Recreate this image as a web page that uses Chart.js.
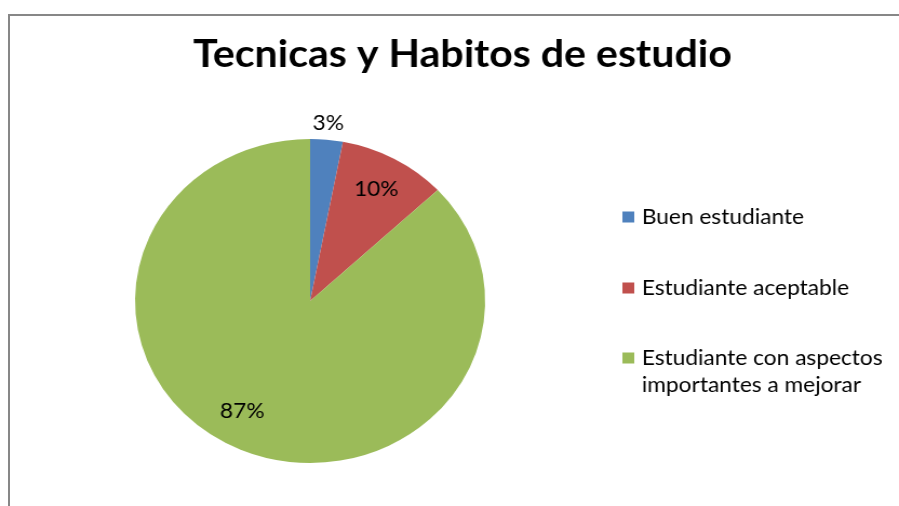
<!DOCTYPE html>
<html>
<head>
<meta charset="utf-8">
<script src="https://cdn.jsdelivr.net/npm/chart.js@4.4.1/dist/chart.umd.min.js"></script>
<style>
  html, body { margin: 0; padding: 0; background: #fff; overflow: hidden; }
  #frame {
    position: absolute; left: 8px; top: 14px; width: 900px; height: 500px;
    border-top: 2px solid #878787; border-left: 2px solid #878787;
  }
  /* the original picture is stretched sideways, so the canvas is too */
  #pie { position: absolute; left: 0; top: 0; width: 899px; height: 506px; }
</style>
</head>
<body>
<div id="frame"></div>
<canvas id="pie" width="832" height="506" style="width:899px;height:506px"></canvas>
<script>
// datos del grafico
const titulo = 'Tecnicas y Habitos de estudio';
const categorias = ['Buen estudiante', 'Estudiante aceptable', 'Estudiante con aspectos importantes a mejorar'];
const lineasLeyenda = [['Buen estudiante'], ['Estudiante aceptable'], ['Estudiante con aspectos', 'importantes a mejorar']];
const valores = [3, 10, 87];
const colores = ['#4F81BD', '#C0504D', '#9BBB59'];

const fuente = 'Lato, "Open Sans", sans-serif';

// titulo, leyenda y porcentajes dibujados a mano
const extras = {
  id: 'extras',
  afterDraw(chart) {
    const c = chart.ctx;
    c.save();
    c.fillStyle = '#000';
    c.textAlign = 'center';
    c.textBaseline = 'alphabetic';
    c.font = 'bold 38px ' + fuente;
    c.fillText(titulo, 428, 67);

    // porcentajes
    const total = valores.reduce((a, b) => a + b, 0);
    const radios = [1.1, 0.785, 0.785];
    const giro = [0, 0, 0.108];
    const arcs = chart.getDatasetMeta(0).data;
    c.font = '21px ' + fuente;
    c.textBaseline = 'middle';
    arcs.forEach((arc, i) => {
      const p = arc.getProps(['x', 'y', 'startAngle', 'endAngle', 'outerRadius'], true);
      const a = (p.startAngle + p.endAngle) / 2 + giro[i];
      const r = p.outerRadius * radios[i];
      const txt = Math.round(valores[i] / total * 100) + '%';
      c.fillText(txt, p.x + Math.cos(a) * r, p.y + Math.sin(a) * r);
    });

    // leyenda
    const filas = [217, 288, 358];
    c.textAlign = 'left';
    c.font = '21px ' + fuente;
    lineasLeyenda.forEach((lineas, i) => {
      c.fillStyle = colores[i];
      c.fillRect(576, filas[i] - 5.5, 11, 11);
      c.fillStyle = '#000';
      lineas.forEach((t, k) => c.fillText(t, 594, filas[i] + k * 27));
    });
    c.restore();
  }
};

const ctx = document.getElementById('pie').getContext('2d');
const grafico = new Chart(ctx, {
  type: 'pie',
  data: {
    labels: categorias,
    datasets: [{
      data: valores,
      backgroundColor: colores,
      borderWidth: 0
    }]
  },
  options: {
    responsive: false,
    animation: false,
    layout: { padding: { left: 125, right: 383, top: 139, bottom: 43 } },
    plugins: {
      legend: { display: false },
      title: { display: false },
      tooltip: { enabled: false }
    }
  },
  plugins: [extras]
});
</script>
</body>
</html>
